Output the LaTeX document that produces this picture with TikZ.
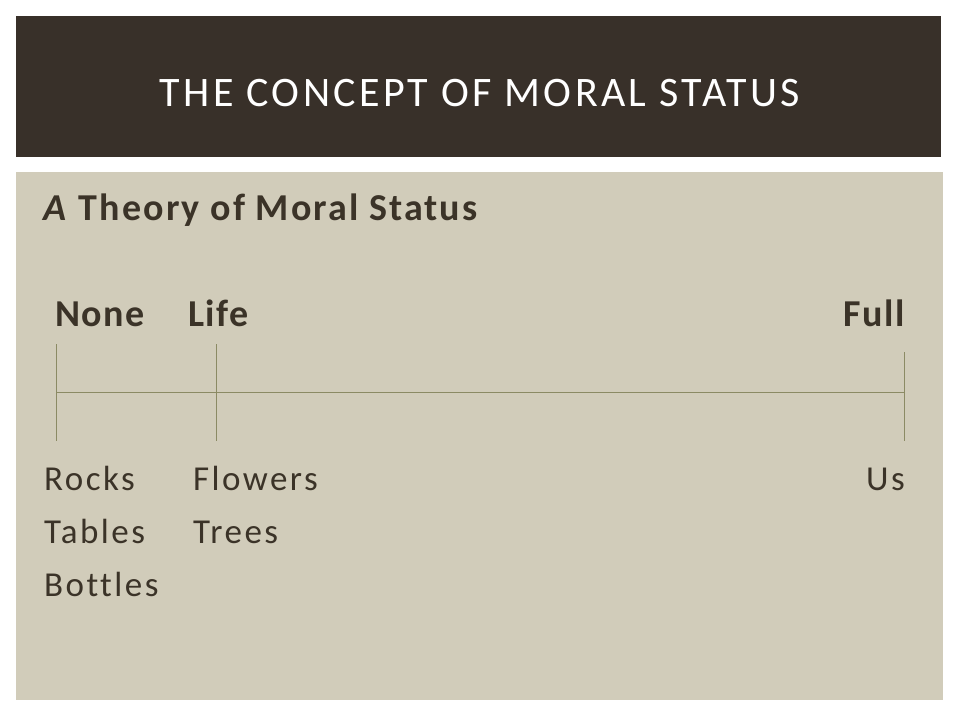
\documentclass[tikz,border=0pt]{standalone}
\usepackage{fontspec}
\setmainfont{Carlito}[LetterSpace=7, Ligatures=CommonOff]
\newfontfamily\titlefont{Carlito}[LetterSpace=8, Ligatures=CommonOff]
\newfontfamily\headfont{Carlito}[LetterSpace=4, Ligatures=CommonOff]
\newfontfamily\widefont{Carlito}[LetterSpace=5.5, Ligatures=CommonOff]
\usetikzlibrary{positioning}

\definecolor{barbrown}{HTML}{383029}
\definecolor{panelbeige}{HTML}{D1CCBA}
\definecolor{inkbrown}{HTML}{3B3328}
\definecolor{scaleline}{HTML}{8B8A64}

\tikzset{
  word/.style={anchor=base west, inner sep=0pt, text=inkbrown, font=\fontsize{35}{40}\selectfont},
  level/.style={word, font=\headfont\fontsize{38}{44}\selectfont\bfseries},
  tick/.style={draw=scaleline, line width=0.9pt}
}

\begin{document}
\begin{tikzpicture}[x=1pt,y=-1pt]
      \useasboundingbox (0,0) rectangle (960,720);
      \fill[white] (0,0) rectangle (960,720);
      \fill[barbrown] (16,16) rectangle (941,157);
      \fill[panelbeige] (16,172) rectangle (943,700);
      \node[anchor=base, inner sep=0pt, text=white, font=\titlefont\fontsize{42}{48}\selectfont] (title) at (480,106) {THE CONCEPT OF MORAL STATUS};
      \node[level, font=\widefont\fontsize{38}{44}\selectfont\bfseries] (theory) at (43,220) {\textit{A} Theory of Moral Status};
      % the scale
      \node[level] (none) at (55,326) {None};
      \node[level] (life) at (188,326) {Life};
      \node[level, anchor=base east] (full) at (905,326) {Full};
      \coordinate (n1) at (56,344); \coordinate (n2) at (56,441);
      \coordinate (l1) at (216,344); \coordinate (l2) at (216,441);
      \coordinate (f1) at (904,352); \coordinate (f2) at (904,441);
      \coordinate (h1) at (56,392); \coordinate (h2) at (904,392);
      \draw[tick] (n1) -- (n2);
      \draw[tick] (l1) -- (l2);
      \draw[tick] (f1) -- (f2);
      \draw[tick] (h1) -- (h2);
      % examples
      \node[word] (rocks) at (44,490) {Rocks};
      \node[word] (tables) at (44,543) {Tables};
      \node[word] (bottles) at (44,596) {Bottles};
      \node[word] (flowers) at (193,490) {Flowers};
      \node[word] (trees) at (193,543) {Trees};
      \node[word, anchor=base east] (us) at (905,490) {Us};
    \end{tikzpicture}
\end{document}
